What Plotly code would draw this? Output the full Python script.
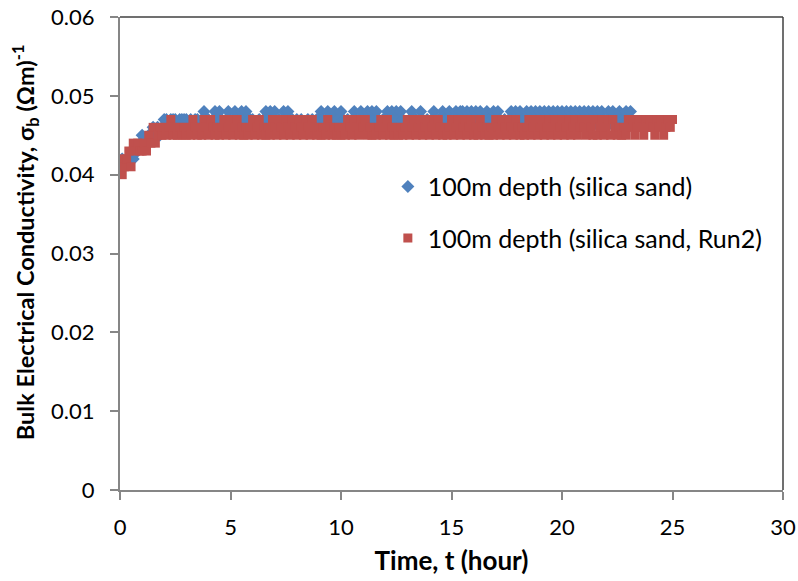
import plotly.graph_objects as go

# Sampling interval of the logger (hours); rows below are one hour each, 10 samples per row
sample_step_h = 0.1

# Conductivity values in units of 0.001 (Ωm)^-1, per hour of test
blue_rows = [
    [41, 42, 41, 42, 42, 43, 42, 43, 43, 44],
    [45, 44, 44, 45, 45, 46, 45, 46, 45, 46],
    [47, 47, 46, 47, 47, 47, 46, 47, 47, 47],
    [47, 46, 47, 46, 47, 47, 46, 47, 48, 47],
    [47, 46, 47, 48, 47, 48, 47, 46, 47, 48],
    [46, 47, 48, 46, 47, 48, 47, 48, 47, 47],
    [47, 46, 46, 47, 46, 47, 48, 47, 48, 47],
    [48, 46, 47, 46, 48, 47, 48, 46, 47, 46],
    [47, 46, 47, 46, 46, 47, 46, 47, 46, 47],
    [47, 48, 47, 46, 48, 46, 47, 48, 47, 47],
    [48, 47, 46, 47, 46, 47, 48, 46, 47, 48],
    [46, 47, 48, 47, 48, 47, 48, 47, 46, 47],
    [47, 48, 47, 48, 47, 48, 47, 48, 47, 46],
    [46, 47, 48, 46, 47, 46, 48, 47, 46, 47],
    [46, 47, 48, 46, 47, 47, 48, 47, 47, 48],
    [47, 46, 48, 47, 48, 48, 47, 48, 47, 48],
    [47, 48, 46, 48, 47, 47, 48, 47, 47, 48],
    [47, 48, 47, 46, 47, 46, 47, 48, 47, 48],
    [47, 48, 47, 47, 48, 46, 48, 47, 48, 47],
    [48, 47, 48, 46, 48, 47, 48, 47, 48, 47],
    [48, 47, 48, 47, 48, 46, 48, 47, 48, 47],
    [48, 47, 48, 47, 48, 47, 48, 46, 48, 47],
    [46, 48, 47, 48, 47, 47, 48, 47, 47, 48],
    [47, 48],
]

red_rows = [
    [42, 40, 41, 42, 43, 41, 44, 43, 44, 43],
    [43, 44, 43, 45, 44, 46, 44, 45, 46, 45],
    [46, 45, 46, 47, 45, 46, 45, 46, 45, 46],
    [45, 46, 45, 47, 46, 45, 46, 45, 47, 46],
    [45, 47, 46, 45, 46, 45, 46, 47, 45, 46],
    [47, 45, 46, 47, 45, 46, 45, 46, 45, 46],
    [47, 45, 46, 47, 45, 46, 45, 46, 45, 47],
    [46, 45, 47, 46, 45, 47, 46, 45, 47, 46],
    [45, 47, 46, 45, 47, 46, 45, 47, 46, 45],
    [46, 45, 46, 45, 47, 46, 45, 46, 45, 46],
    [45, 46, 45, 47, 46, 45, 47, 46, 45, 47],
    [46, 47, 45, 46, 45, 46, 45, 46, 47, 45],
    [46, 47, 45, 46, 45, 46, 45, 46, 45, 46],
    [47, 45, 46, 47, 45, 46, 47, 45, 46, 47],
    [45, 46, 47, 45, 47, 46, 45, 46, 45, 46],
    [47, 45, 46, 47, 45, 46, 47, 45, 46, 47],
    [45, 46, 45, 47, 46, 45, 46, 45, 46, 45],
    [47, 46, 45, 47, 46, 45, 47, 46, 45, 47],
    [46, 45, 46, 45, 46, 47, 45, 46, 47, 45],
    [46, 47, 45, 46, 47, 45, 46, 47, 45, 46],
    [47, 45, 46, 47, 45, 46, 47, 45, 46, 47],
    [46, 45, 47, 46, 45, 47, 45, 46, 47, 45],
    [46, 47, 45, 47, 46, 45, 46, 45, 46, 45],
    [47, 46, 47, 45, 46, 47, 46, 45, 47, 46],
    [47, 46, 45, 47, 46, 47, 45, 46, 47, 46],
    [47],
]

series_names = ["100m depth (silica sand)", "100m depth (silica sand, Run2)"]
x_ticks = [0, 5, 10, 15, 20, 25, 30]
y_ticks = [0, 0.01, 0.02, 0.03, 0.04, 0.05, 0.06]
y_tick_text = ["0", "0.01", "0.02", "0.03", "0.04", "0.05", "0.06"]
x_title = "<b>Time, t (hour)</b>"
y_title = "<b>Bulk Electrical Conductivity, σ<sub>b</sub> (Ωm)<sup>-1</sup></b>"


def expand(rows):
    t, v = [], []
    for h, row in enumerate(rows):
        for i, val in enumerate(row):
            t.append(round(h + i * sample_step_h, 2))
            v.append(val / 1000.0)
    return t, v


bt, bv = expand(blue_rows)
rt, rv = expand(red_rows)

fig = go.Figure()
fig.add_trace(go.Scatter(
    x=bt, y=bv, mode="markers", name=series_names[0], legendgroup="a",
    marker=dict(symbol="diamond", size=10, color="#4F81BD", line=dict(width=0)),
))
fig.add_trace(go.Scatter(
    x=rt, y=rv, mode="markers", name=series_names[1], legendgroup="b",
    marker=dict(symbol="square", size=9, color="#C0504D", line=dict(width=0)),
))

font_family = "Lato, Carlito, Calibri, sans-serif"
axis_common = dict(
    showgrid=False, zeroline=False, showline=True, linecolor="#868686", linewidth=1.5,
    mirror=False, ticks="outside", ticklen=8, tickcolor="#868686", tickwidth=1.5,
    tickfont=dict(family=font_family, size=22, color="#000000"),
    automargin=False, ticklabeloverflow="allow",
)

NBSP = "\u00a0"

fig.update_layout(
    width=798, height=581,
    margin=dict(l=120, r=15, t=17, b=91),
    paper_bgcolor="white", plot_bgcolor="white",
    font=dict(family=font_family, color="#000000"),
    showlegend=True,
    legend=dict(
        x=0.404, y=0.69, xanchor="left", yanchor="top",
        font=dict(family=font_family, size=25, color="#000000"),
        bgcolor="rgba(0,0,0,0)", traceorder="grouped", tracegroupgap=16,
        itemsizing="trace",
    ),
    xaxis=dict(
        range=[0, 30], tickvals=x_ticks, ticktext=[str(v) for v in x_ticks],
        ticklabelstandoff=9,
        title=dict(text=x_title, font=dict(family=font_family, size=26), standoff=13),
        **axis_common,
    ),
    yaxis=dict(
        range=[0, 0.06], tickvals=y_ticks,
        ticktext=[t + NBSP * 2 for t in y_tick_text],
        **axis_common,
    ),
    annotations=[
        dict(text=y_title, xref="paper", yref="paper", x=0, y=0.524, xshift=-95,
             xanchor="center", yanchor="middle", textangle=-90, showarrow=False,
             font=dict(family=font_family, size=23.5, color="#000000")),
    ],
    shapes=[
        dict(type="line", xref="paper", yref="paper", x0=0, x1=1, y0=1, y1=1,
             line=dict(color="#404040", width=1.5)),
        dict(type="line", xref="paper", yref="paper", x0=1, x1=1, y0=0, y1=1,
             line=dict(color="#404040", width=1.5)),
    ],
)

# remove the browser's default 8px body margin so the figure fills the window exactly
fig.write_html("out.html", config={"displayModeBar": False},
               post_script="document.body.style.margin='0';")
